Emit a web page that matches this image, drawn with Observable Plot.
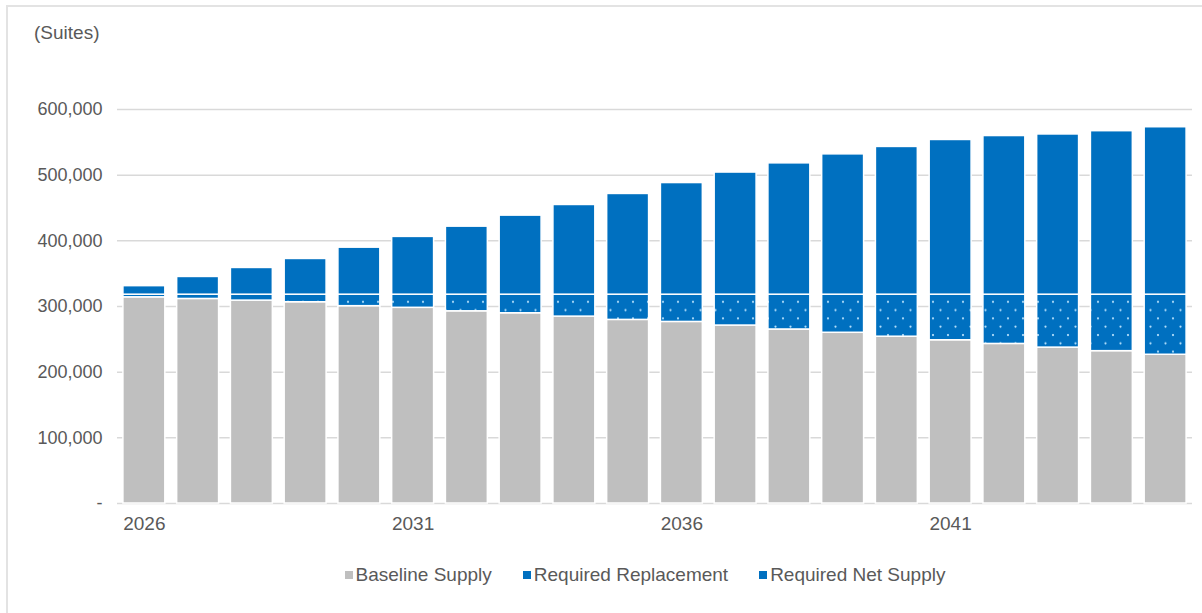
<!DOCTYPE html>
<html>
<head>
<meta charset="utf-8">
<script src="https://cdn.jsdelivr.net/npm/d3@7"></script>
<script src="https://cdn.jsdelivr.net/npm/@observablehq/plot@0.6"></script>
<style>
  html, body { margin: 0; padding: 0; background: #fff; }
  #wrap { position: relative; width: 1202px; height: 613px; overflow: hidden; font-family: "Liberation Sans", Arial, sans-serif; color: #595959; }
  #frame { position: absolute; left: 6px; top: 5px; width: 1300px; height: 700px; border-left: 2px solid #e3e3e3; border-top: 2px solid #e3e3e3; }
  #unit { position: absolute; left: 34px; top: 22px; font-size: 19px; }
  #chart { position: absolute; left: 0; top: 0; }
  #legend { position: absolute; left: 0; width: 1202px; top: 564px; display: flex; justify-content: center; font-size: 19px; gap: 31px; padding-left: 88px; box-sizing: border-box; }
  .item { display: flex; align-items: center; }
  .sw { width: 8px; height: 8px; margin-right: 3px; display: inline-block; }
</style>
</head>
<body>
<div id="wrap">
  <div id="frame"></div>
  <div id="unit">(Suites)</div>
  <div id="chart"></div>
  <div id="legend"></div>
</div>
<script>
const years = [2026, 2027, 2028, 2029, 2030, 2031, 2032, 2033, 2034, 2035, 2036, 2037, 2038, 2039, 2040, 2041, 2042, 2043, 2044, 2045];
const baselineSupply = [314000, 311500, 309000, 306500, 300500, 298000, 292700, 289700, 284600, 279600, 276500, 271000, 265000, 260000, 254000, 248600, 243000, 237400, 232000, 226500];
const requiredReplacement = [4000, 6500, 9000, 11500, 17500, 20000, 25300, 28300, 33400, 38400, 41500, 47000, 53000, 58000, 64000, 69400, 75000, 80600, 86000, 91500];
const requiredNetSupply = [13000, 27000, 40700, 54400, 71600, 88000, 103600, 120400, 136600, 153400, 170000, 186000, 200000, 213700, 225000, 235600, 241600, 244000, 249000, 255000];
const seriesNames = ["Baseline Supply", "Required Replacement", "Required Net Supply"];
const seriesFills = ["#bfbfbf", "url(#dots)", "#0070c0"];
const legendColors = ["#bfbfbf", "#0070c0", "#0070c0"];
const xTicks = [2026, 2031, 2036, 2041];
const yTicks = [0, 100000, 200000, 300000, 400000, 500000, 600000];

const rows = [];
years.forEach((yr, i) => {
  rows.push({year: yr, series: seriesNames[0], value: baselineSupply[i]});
  rows.push({year: yr, series: seriesNames[1], value: requiredReplacement[i]});
  rows.push({year: yr, series: seriesNames[2], value: requiredNetSupply[i]});
});

const fmt = d3.format(",");
const plot = Plot.plot({
  width: 1202,
  height: 545,
  marginTop: 109,
  marginBottom: 42,
  marginLeft: 117,
  marginRight: 10,
  style: {fontFamily: "'Liberation Sans', Arial, sans-serif", fontSize: "18px", color: "#595959", background: "transparent"},
  x: {type: "band", domain: years, paddingInner: 0.22, paddingOuter: 0.11, round: false, label: null},
  y: {domain: [0, 600000], label: null},
  color: {domain: seriesNames, range: seriesFills},
  marks: [
    Plot.ruleY(yTicks, {stroke: "#d9d9d9", strokeWidth: 1.5}),
    Plot.barY(rows, Plot.stackY({order: seriesNames, x: "year", y: "value", fill: "series", stroke: "white", strokeWidth: 1.5})),
    Plot.axisY({ticks: yTicks, tickSize: 0, tickPadding: 15, tickFormat: d => d === 0 ? "-" : fmt(d), fill: "#595959", fontSize: 18, label: null}),
    Plot.axisX({ticks: xTicks, tickSize: 0, tickPadding: 13, fill: "#595959", fontSize: 19, label: null, tickFormat: d => String(d)})
  ]
});

const svg = d3.select(plot);
const defs = svg.insert("defs", ":first-child");
const pat = defs.append("pattern").attr("id", "dots").attr("patternUnits", "userSpaceOnUse")
  .attr("width", 15).attr("height", 16.6).attr("x", 0).attr("y", 0);
pat.append("rect").attr("width", 15).attr("height", 16.6).attr("fill", "#0070c0");
pat.append("circle").attr("cx", 3).attr("cy", 3).attr("r", 1.1).attr("fill", "#bfe6ff");
pat.append("circle").attr("cx", 10.5).attr("cy", 11.3).attr("r", 1.1).attr("fill", "#bfe6ff");
document.getElementById("chart").appendChild(plot);

const lg = d3.select("#legend");
seriesNames.forEach((n, i) => {
  const it = lg.append("div").attr("class", "item");
  it.append("span").attr("class", "sw").style("background", legendColors[i]);
  it.append("span").text(n);
});
</script>
</body>
</html>
